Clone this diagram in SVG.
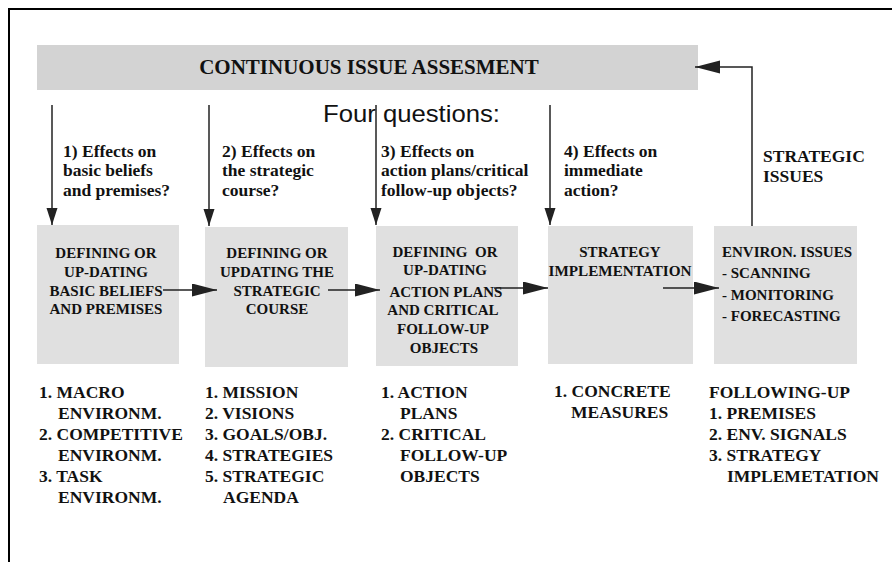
<svg xmlns="http://www.w3.org/2000/svg" width="892" height="562" viewBox="0 0 892 562">
<style>
.t{font-family:"Liberation Serif","Times New Roman",serif;font-weight:bold;fill:#111}
.q{font-size:17.5px}
.b{font-size:15px}
.l{font-size:17.5px}
.box{fill:#e0e0e0}
.ln{stroke:#222;stroke-width:1.5;fill:none}
</style>
<defs>
<marker id="av" markerUnits="userSpaceOnUse" markerWidth="18" markerHeight="12" refX="17" refY="5.5" orient="auto">
<path d="M0,0 L17,5.5 L0,11 Z" fill="#222"/>
</marker>
<marker id="ah" markerUnits="userSpaceOnUse" markerWidth="26" markerHeight="14" refX="25" refY="6.5" orient="auto">
<path d="M0,0 L25,6.5 L0,13 Z" fill="#222"/>
</marker>
</defs>
<rect width="892" height="562" fill="#fff"/>
<path d="M9,562 L9,9 L892,9" stroke="#000" stroke-width="2" fill="none"/>

<g id="banner">
<rect x="37" y="45" width="661" height="45" fill="#d3d3d3"/>
<text class="t" x="369" y="74" font-size="21" text-anchor="middle">CONTINUOUS ISSUE ASSESMENT</text>
</g>

<text x="323" y="122" font-family="Liberation Sans, Arial, sans-serif" font-size="24" fill="#111" textLength="177" lengthAdjust="spacingAndGlyphs">Four questions:</text>

<g id="q1" class="t q">
<text x="63" y="157">1) Effects on</text>
<text x="63" y="176">basic beliefs</text>
<text x="63" y="196">and premises?</text>
</g>
<g id="q2" class="t q">
<text x="222" y="157">2) Effects on</text>
<text x="222" y="176">the strategic</text>
<text x="222" y="196">course?</text>
</g>
<g id="q3" class="t q">
<text x="381" y="157">3) Effects on</text>
<text x="381" y="176">action plans/critical</text>
<text x="381" y="196">follow-up objects?</text>
</g>
<g id="q4" class="t q">
<text x="564" y="157">4) Effects on</text>
<text x="564" y="176">immediate</text>
<text x="564" y="196">action?</text>
</g>
<g id="strategic-issues" class="t q">
<text x="763" y="162">STRATEGIC</text>
<text x="763" y="182">ISSUES</text>
</g>

<g id="box1">
<rect class="box" x="37" y="225" width="142" height="139"/>
<g class="t b" text-anchor="middle">
<text x="106" y="258">DEFINING OR</text>
<text x="106" y="277">UP-DATING</text>
<text x="106" y="296">BASIC BELIEFS</text>
<text x="106" y="314">AND PREMISES</text>
</g>
</g>
<g id="box2">
<rect class="box" x="205" y="227" width="143" height="140"/>
<g class="t b" text-anchor="middle">
<text x="277" y="258">DEFINING OR</text>
<text x="277" y="277">UPDATING THE</text>
<text x="277" y="296">STRATEGIC</text>
<text x="277" y="314">COURSE</text>
</g>
</g>
<g id="box3">
<rect class="box" x="376" y="226" width="142" height="140"/>
<g class="t b" text-anchor="middle">
<text x="445" y="257" xml:space="preserve">DEFINING  OR</text>
<text x="445" y="275">UP-DATING</text>
<text x="446" y="297">ACTION PLANS</text>
<text x="443" y="315">AND CRITICAL</text>
<text x="443" y="334">FOLLOW-UP</text>
<text x="444" y="353">OBJECTS</text>
</g>
</g>
<g id="box4">
<rect class="box" x="548" y="226" width="145" height="138"/>
<g class="t b" text-anchor="middle">
<text x="620" y="257">STRATEGY</text>
<text x="620" y="276" textLength="143" lengthAdjust="spacingAndGlyphs">IMPLEMENTATION</text>
</g>
</g>
<g id="box5">
<rect class="box" x="714" y="226" width="143" height="138"/>
<g class="t b">
<text x="722" y="257">ENVIRON. ISSUES</text>
<text x="722" y="278">- SCANNING</text>
<text x="722" y="300">- MONITORING</text>
<text x="722" y="321">- FORECASTING</text>
</g>
</g>

<g id="list1" class="t l">
<text x="39" y="398">1. MACRO</text>
<text x="58" y="419">ENVIRONM.</text>
<text x="39" y="440">2. COMPETITIVE</text>
<text x="58" y="461">ENVIRONM.</text>
<text x="39" y="482">3. TASK</text>
<text x="58" y="503">ENVIRONM.</text>
</g>
<g id="list2" class="t l">
<text x="205" y="398">1. MISSION</text>
<text x="205" y="419">2. VISIONS</text>
<text x="205" y="440">3. GOALS/OBJ.</text>
<text x="205" y="461">4. STRATEGIES</text>
<text x="205" y="482">5. STRATEGIC</text>
<text x="223" y="503">AGENDA</text>
</g>
<g id="list3" class="t l">
<text x="381" y="398">1. ACTION</text>
<text x="400" y="419">PLANS</text>
<text x="381" y="440">2. CRITICAL</text>
<text x="400" y="461">FOLLOW-UP</text>
<text x="400" y="482">OBJECTS</text>
</g>
<g id="list4" class="t l">
<text x="554" y="397">1. CONCRETE</text>
<text x="571" y="418">MEASURES</text>
</g>
<g id="list5" class="t l">
<text x="709" y="398">FOLLOWING-UP</text>
<text x="709" y="419">1. PREMISES</text>
<text x="709" y="440">2. ENV. SIGNALS</text>
<text x="709" y="461">3. STRATEGY</text>
<text x="727" y="482">IMPLEMETATION</text>
</g>

<g id="connectors">
<line class="ln" x1="52" y1="105" x2="52" y2="225" marker-end="url(#av)"/>
<line class="ln" x1="209" y1="105" x2="209" y2="226" marker-end="url(#av)"/>
<line class="ln" x1="376" y1="105" x2="376" y2="225" marker-end="url(#av)"/>
<line class="ln" x1="550" y1="105" x2="550" y2="225" marker-end="url(#av)"/>
<line class="ln" x1="163" y1="290" x2="217" y2="290" marker-end="url(#ah)"/>
<line class="ln" x1="328" y1="290" x2="380" y2="290" marker-end="url(#ah)"/>
<line class="ln" x1="494" y1="288" x2="548" y2="288" marker-end="url(#ah)"/>
<line class="ln" x1="663" y1="288" x2="719" y2="288" marker-end="url(#ah)"/>
<path class="ln" d="M752,226 L752,67 L695,67" marker-end="url(#ah)"/>
</g>
</svg>
